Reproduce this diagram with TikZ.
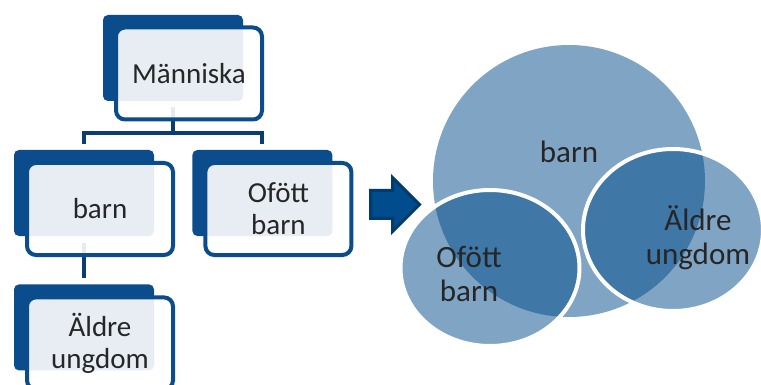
\documentclass[tikz,border=0pt]{standalone}
\usepackage{fontspec}
\setmainfont{Carlito}
\usetikzlibrary{positioning,shapes.geometric,shapes.arrows}
\definecolor{navy}{HTML}{0B4C8C}
\definecolor{linkc}{HTML}{0B3D70}
\definecolor{ink}{HTML}{262626}
\definecolor{vennc}{HTML}{004A8A}
\definecolor{arrowfill}{HTML}{004C8C}
\definecolor{arrowrim}{HTML}{003A6E}

\begin{document}
\begin{tikzpicture}[x=1pt, y=-1pt, node distance=48pt and 38pt, every node/.style={text=ink},
      back/.style={fill=navy, rounded corners=5pt, minimum width=140pt, minimum height=86pt, inner sep=0pt},
      front/.style={draw=navy, fill=white, fill opacity=0.9, text opacity=1, line width=4pt, rounded corners=9pt, minimum width=146pt, minimum height=92pt, align=center, font=\fontsize{29}{32}\selectfont},
      link/.style={draw=linkc, line width=4pt},
      venn/.style={fill=vennc, fill opacity=0.5, inner sep=0pt},
      vennlabel/.style={align=center, font=\fontsize{31}{34}\selectfont},
      bigarrow/.style={single arrow, draw=arrowrim, fill=arrowfill, line width=3pt, minimum height=49pt, inner sep=0pt, inner ysep=12.5pt, single arrow head extend=13pt, single arrow tip angle=90}]
    \useasboundingbox (0,0) rectangle (761,385);
    % tree on the left
    \node[back] (manniska) at (173,58) {};
    \node[back] (barn) at (84,193) {};
    \node[back, right=of barn] (ofott) {};
    \node[back, below=of barn] (aldre) {};
    \coordinate (fork) at ([yshift=-32pt]manniska.south);
    \draw[link, shorten <=6pt] (manniska) -- (fork);
    \draw[link, shorten >=6pt] (fork) -| (barn); \draw[link, shorten >=6pt] (fork) -| (ofott);
    \draw[link, shorten <=7pt, shorten >=6pt] (barn) -- (aldre);
    \node[front] (manniska-f) at ([shift={(16pt,-15.5pt)}]manniska.center) {Människa};
    \node[front] (barn-f) at ([shift={(16pt,-16pt)}]barn.center) {barn};
    \node[front] (ofott-f) at ([shift={(16pt,-16pt)}]ofott.center) {Ofött\\barn};
    \node[front] (aldre-f) at ([shift={(16pt,-16pt)}]aldre.center) {Äldre\\ungdom};
    \node[bigarrow] (turn) at (388,204.5) {};
    % overlapping sets on the right
    \node[venn, circle, minimum size=272pt] (barn-c) at (569,181) {};
    \node[venn, ellipse, draw=white, line width=4pt, minimum width=179pt, minimum height=156pt] (ofott-c) at (490,268) {};
    \node[venn, ellipse, draw=white, line width=4pt, minimum width=180pt, minimum height=162pt] (aldre-c) at (673,230) {};
    \node[vennlabel] (barn-t) at ([yshift=29pt]barn-c.center) {barn};
    \node[vennlabel] (ofott-t) at ([xshift=-21pt, yshift=-6pt]ofott-c.center) {Ofött\\barn};
    \node[vennlabel] (aldre-t) at ([xshift=25pt, yshift=-8pt]aldre-c.center) {Äldre\\ungdom};
  \end{tikzpicture}
\end{document}
